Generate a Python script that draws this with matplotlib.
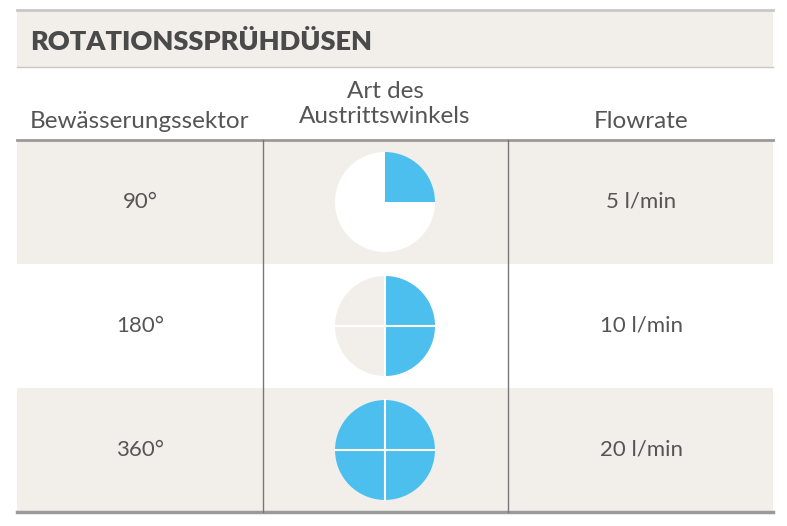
import matplotlib
matplotlib.use("Agg")
import matplotlib.pyplot as plt
from matplotlib.patches import Rectangle, Wedge, Circle

title = "ROTATIONSSPRÜHDÜSEN"
headers = ["Bewässerungssektor", "Art des\nAustrittswinkels", "Flowrate"]
sectors = [90, 180, 360]
sector_labels = ["90°", "180°", "360°"]
flowrates = ["5 l/min", "10 l/min", "20 l/min"]

plt.rcParams['font.family'] = ['Lato', 'DejaVu Sans']
beige = "#f2efeb"; blue = "#4dbfee"; grey = "#9a9a9a"; txt = "#555555"

fig = plt.figure(figsize=(7.87, 5.26), dpi=100)
ax = fig.add_axes([0, 0, 1, 1])
ax.set_xlim(0, 787); ax.set_ylim(526, 0); ax.axis("off")

L, R = 17, 773
ax.add_patch(Rectangle((L, 10), R-L, 57, color=beige, lw=0))
ax.plot([L, R], [10, 10], color="#c8c8c8", lw=2)
ax.plot([L, R], [67, 67], color="#c8c8c8", lw=1)
ax.text(30, 42, title, fontsize=19.5, fontweight="heavy", color="#4a4a4a", va="center")

hx = [140, 385, 641]
ax.text(hx[0], 121, headers[0], fontsize=17.5, color=txt, ha="center", va="center")
ax.text(hx[1], 104, headers[1], fontsize=17.5, color=txt, ha="center", va="center", linespacing=1.2)
ax.text(hx[2], 121, headers[2], fontsize=17.5, color=txt, ha="center", va="center")

rh = 124; top = 140
for i, (s, sl, fr) in enumerate(zip(sectors, sector_labels, flowrates)):
    y0 = top + i*rh
    bg = beige if i % 2 == 0 else "white"
    ax.add_patch(Rectangle((L, y0), R-L, rh, color=bg, lw=0))
    cy = y0 + rh/2
    ax.text(hx[0], cy, sl, fontsize=16, color=txt, ha="center", va="center")
    ax.text(hx[2], cy, fr, fontsize=16, color=txt, ha="center", va="center")
    r = 50
    circ_bg = "white" if i % 2 == 0 else beige
    ax.add_patch(Circle((385, cy), r, color=circ_bg, lw=0))
    ax.add_patch(Wedge((385, cy), r, -90, -90 + s, color=blue, lw=0))
    if s > 90:
        ax.plot([385-r, 385+r], [cy, cy], color="white", lw=1.5)
        ax.plot([385, 385], [cy-r, cy+r], color="white", lw=1.5)

ax.plot([L, R], [140, 140], color=grey, lw=2)
ax.plot([L, R], [512, 512], color=grey, lw=2.5)
for x in (263, 508):
    ax.plot([x, x], [140, 512], color="#777777", lw=1)

fig.savefig("out.png", dpi=100)
